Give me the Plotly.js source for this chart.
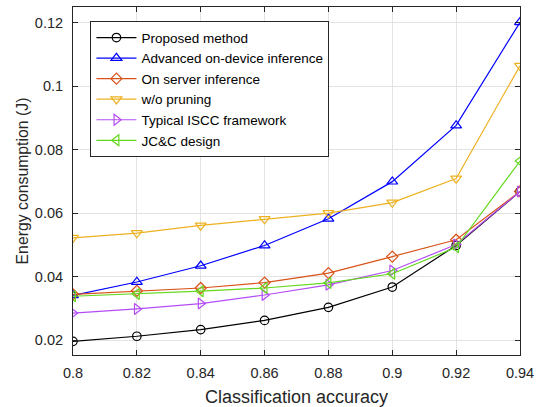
<!DOCTYPE html>
<html><head><meta charset="utf-8">
<script src="https://cdn.plot.ly/plotly-3.0.1.min.js"></script>
<style>html,body{margin:0;padding:0;background:#fff}#chart{width:539px;height:407px}</style>
</head><body><div id="chart"></div>
<script>
const accuracy = [0.80, 0.82, 0.84, 0.86, 0.88, 0.90, 0.92, 0.94];
const proposed = [0.0197, 0.0213, 0.0234, 0.0263, 0.0304, 0.0368, 0.0499, 0.0669];
const advanced = [0.0342, 0.0384, 0.0435, 0.0499, 0.0583, 0.0700, 0.0877, 0.1202];
const onServer = [0.0345, 0.0356, 0.0365, 0.0382, 0.0412, 0.0464, 0.0517, 0.0669];
const woPruning = [0.0523, 0.0538, 0.0562, 0.0582, 0.0601, 0.0634, 0.0710, 0.1065];
const typicalISCC = [0.0286, 0.0299, 0.0316, 0.0343, 0.0375, 0.0420, 0.0502, 0.0669];
const jcc = [0.0339, 0.0346, 0.0355, 0.0365, 0.0381, 0.0410, 0.0493, 0.0765];
const names = ["Proposed method", "Advanced on-device inference", "On server inference", "w/o pruning", "Typical ISCC framework", "JC&amp;C design"];
const series = [proposed, advanced, onServer, woPruning, typicalISCC, jcc];
const colors = ["#000000", "#0000FF", "#D95319", "#EDB120", "#B44CF5", "#63D81E"];
const symbols = ["circle-open", "triangle-up-open", "diamond-open", "triangle-down-open", "triangle-right-open", "triangle-left-open"];
const sizes = [8.5, 9.5, 8.5, 9.5, 9.5, 9.5];

const traces = series.map((ys, i) => ({
  x: accuracy, y: ys, name: names[i], type: 'scatter', mode: 'lines+markers',
  line: {color: colors[i], width: 1.2},
  marker: {symbol: symbols[i], size: sizes[i], color: colors[i], line: {width: 1.2, color: colors[i]}}
}));

const FONT = 'Helvetica, Liberation Sans, Arial, sans-serif';
const axisCommon = {
  showgrid: true, gridcolor: '#e3e3e3', gridwidth: 1,
  zeroline: false, showline: true, linecolor: '#262626', linewidth: 1,
  mirror: 'ticks', ticks: 'inside', ticklen: 5, tickcolor: '#262626',
  tickfont: {size: 14.5, color: '#262626', family: FONT}
};

const layout = {
  width: 539, height: 407,
  margin: {l: 73, r: 19, t: 7, b: 52},
  paper_bgcolor: '#fff', plot_bgcolor: '#fff',
  font: {family: FONT, color: '#262626'},
  showlegend: true,
  xaxis: Object.assign({}, axisCommon, {
    range: [0.8, 0.94], tickvals: [0.8, 0.82, 0.84, 0.86, 0.88, 0.9, 0.92, 0.94],
    ticktext: ['0.8', '0.82', '0.84', '0.86', '0.88', '0.9', '0.92', '0.94'],
    ticklabelstandoff: 5,
    title: {text: 'Classification accuracy', font: {size: 18, color: '#262626'}, standoff: 9}
  }),
  yaxis: Object.assign({}, axisCommon, {
    range: [0.0154, 0.125], tickvals: [0.02, 0.04, 0.06, 0.08, 0.1, 0.12],
    ticktext: ['0.02', '0.04', '0.06', '0.08', '0.1', '0.12'],
    ticklabelstandoff: 6,
    title: {text: 'Energy consumption (J)', font: {size: 15.8, color: '#262626'}, standoff: 2}
  }),
  legend: {
    x: 0.039, y: 0.959, xanchor: 'left', yanchor: 'top',
    bgcolor: '#ffffff', bordercolor: '#262626', borderwidth: 1,
    font: {size: 13.5, color: '#000'}, tracegroupgap: 0, itemwidth: 40
  }
};

Plotly.newPlot('chart', traces, layout, {displayModeBar: false, staticPlot: true});
</script></body></html>
